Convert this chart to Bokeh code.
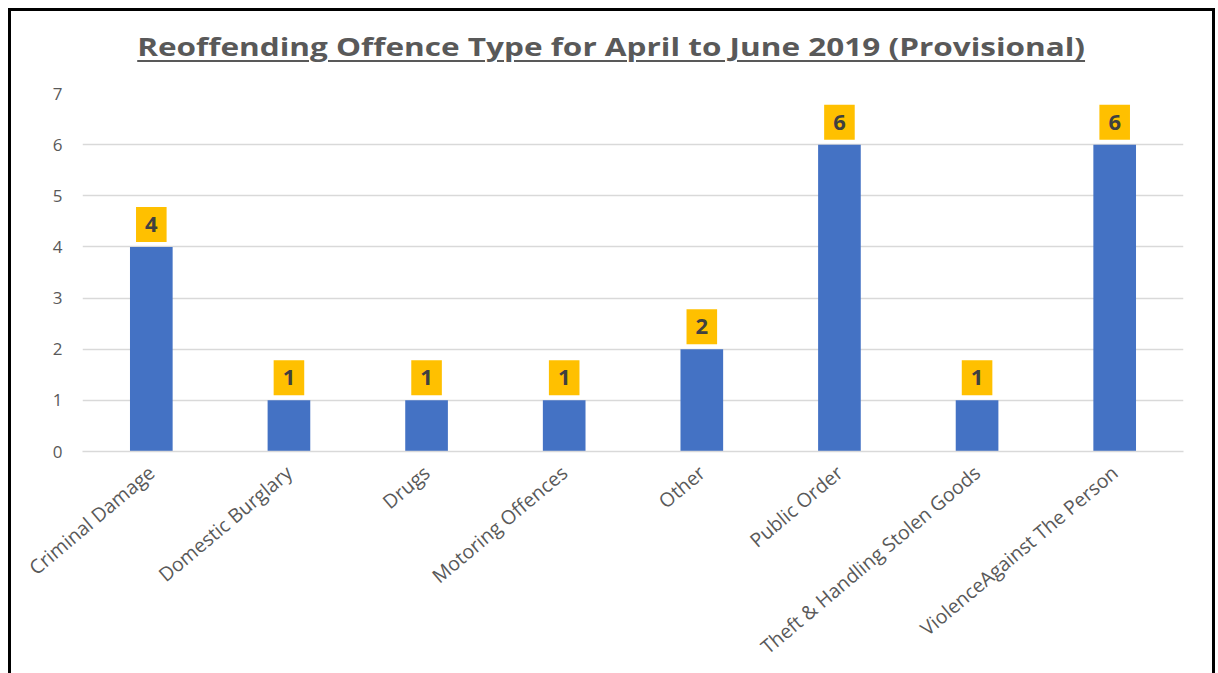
from bokeh.plotting import figure
from bokeh.layouts import column
from bokeh.models import FactorRange, Range1d, ColumnDataSource, FixedTicker, Div
from bokeh.core.properties import value
from bokeh.embed import file_html
from bokeh.resources import INLINE

categories = ["Criminal Damage", "Domestic Burglary", "Drugs", "Motoring Offences",
              "Other", "Public Order", "Theft & Handling Stolen Goods", "ViolenceAgainst The Person"]
counts = [4, 1, 1, 1, 2, 6, 1, 6]
y_ticks = [0, 1, 2, 3, 4, 5, 6, 7]
title_text = "Reoffending Offence Type for April to June 2019 (Provisional)"

FONT = "Open Sans"
source = ColumnDataSource(dict(cat=categories, val=counts, lab=[str(v) for v in counts]))

title_html = (
    '<div style="display:block; width:1201px; box-sizing:border-box; padding-top:18px;'
    ' text-align:center; white-space:nowrap;">'
    '<span style="display:inline-block; transform:scaleX(1.26); transform-origin:50% 50%;'
    ' font-family:\'Open Sans\'; font-weight:bold; font-size:25px; line-height:normal;'
    ' color:#595959; text-decoration:underline; text-decoration-thickness:2px;'
    ' text-underline-offset:4px;">' + title_text + '</span></div>'
)
title_div = Div(text=title_html, width=1201, height=70, margin=(0, 0, 0, 0),
                styles={"background": "white"})

p = figure(x_range=FactorRange(factors=categories), y_range=Range1d(0, 7),
           width=1201, height=592, output_backend="svg", toolbar_location=None,
           min_border_left=71, min_border_right=29, min_border_top=12, min_border_bottom=222)
p.outline_line_color = None
p.background_fill_color = "white"
p.border_fill_color = "white"

p.vbar(x="cat", top="val", width=0.31, source=source, fill_color="#4472C4", line_color=None)

p.text(x="cat", y="val", text="lab", source=source, text_align="center",
       text_baseline="bottom", y_offset=-5, text_font=value(FONT), text_font_size="22px",
       text_font_style="bold", text_color="#404040",
       background_fill_color="#FFC000", padding=(9, 10))

p.xgrid.grid_line_color = None
p.ygrid.grid_line_color = "#D9D9D9"
p.ygrid.grid_line_width = 1.5
p.yaxis.ticker = FixedTicker(ticks=y_ticks)
p.yaxis.axis_line_color = None
p.yaxis.major_tick_line_color = None
p.yaxis.minor_tick_line_color = None
p.yaxis.major_label_text_font = FONT
p.yaxis.major_label_text_font_size = "17px"
p.yaxis.major_label_text_color = "#595959"
p.yaxis.major_label_standoff = 14

p.xaxis.axis_line_color = "#D9D9D9"
p.xaxis.axis_line_width = 1.5
p.xaxis.major_tick_line_color = None
p.xaxis.minor_tick_line_color = None
p.xaxis.major_label_orientation = 0.7
p.xaxis.major_label_text_font = FONT
p.xaxis.major_label_text_font_size = "19.5px"
p.xaxis.major_label_text_color = "#595959"
p.xaxis.major_label_standoff = 12

layout = column(title_div, p, spacing=0,
                styles={"border-left": "3px solid black", "border-top": "3px solid black",
                        "border-right": "3px solid black", "margin-left": "8px",
                        "margin-top": "8px", "background": "white"})

open("out.html", "w").write(file_html(layout, INLINE))
